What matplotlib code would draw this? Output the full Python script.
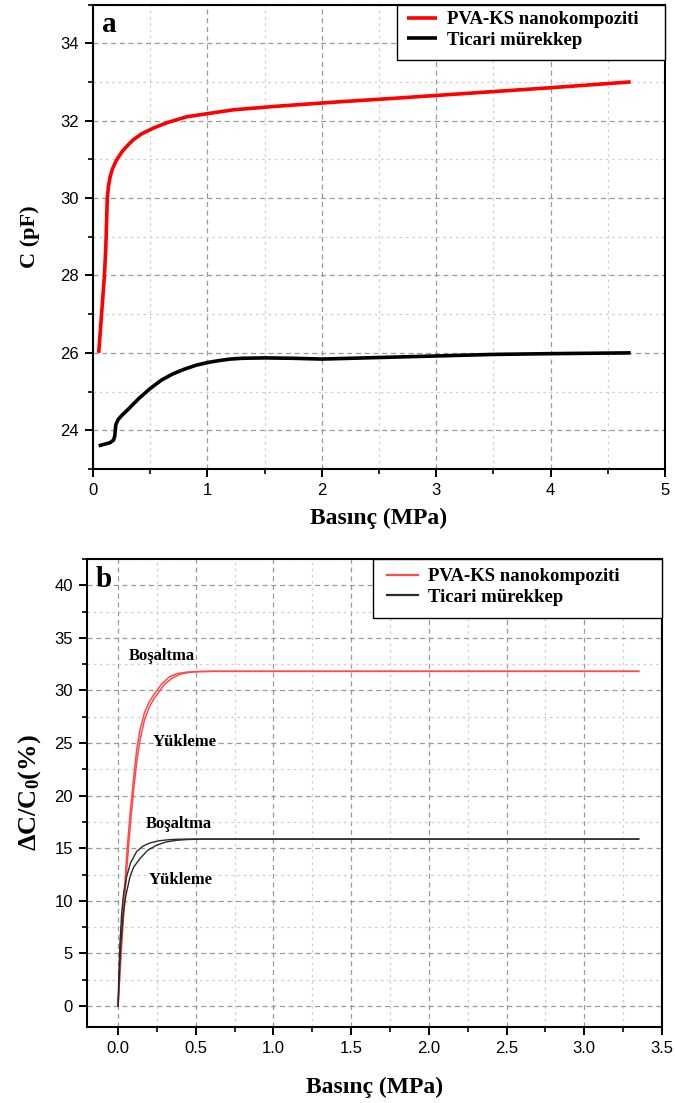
import matplotlib
matplotlib.use("Agg")
import matplotlib.pyplot as plt
from matplotlib.patches import Rectangle
from matplotlib.ticker import MultipleLocator, FormatStrFormatter

plt.rcParams["mathtext.fontset"] = "custom"
plt.rcParams["mathtext.rm"] = "Liberation Serif"
plt.rcParams["mathtext.bf"] = "Liberation Serif:bold"
plt.rcParams["mathtext.it"] = "Liberation Serif:italic"

SERIF = "Liberation Serif"
SANS = "Liberation Sans"
W, H = 675, 1103

# ---- Panel a: capacitance vs pressure ----
a_pva_x = [0.05, 0.07, 0.09, 0.10, 0.11, 0.115, 0.12, 0.125, 0.135, 0.15, 0.17, 0.20,
           0.22, 0.26, 0.30, 0.35, 0.42, 0.53, 0.65, 0.82, 1.0, 1.23, 1.6, 2.17, 2.6,
           3.0, 3.5, 4.0, 4.7]
a_pva_y = [26.0, 26.8, 27.6, 28.0, 28.6, 29.0, 29.5, 30.0, 30.3, 30.55, 30.75, 30.95,
           31.05, 31.22, 31.35, 31.5, 31.65, 31.81, 31.95, 32.1, 32.18, 32.28, 32.37,
           32.49, 32.57, 32.65, 32.75, 32.85, 33.0]

a_ink_x = [0.05, 0.10, 0.15, 0.18, 0.19, 0.20, 0.22, 0.25, 0.30, 0.40, 0.50, 0.60, 0.70,
           0.80, 0.90, 1.0, 1.1, 1.2, 1.3, 1.5, 1.75, 2.0, 2.5, 3.0, 3.5, 4.0, 4.7]
a_ink_y = [23.60, 23.64, 23.68, 23.75, 23.85, 24.15, 24.28, 24.38, 24.52, 24.82, 25.08,
           25.30, 25.46, 25.58, 25.68, 25.75, 25.80, 25.84, 25.86, 25.87, 25.86, 25.84,
           25.88, 25.92, 25.96, 25.98, 26.0]

# ---- Panel b: relative capacitance change, loading / unloading ----
b_pva_unload_x = [0, 0.02, 0.04, 0.06, 0.08, 0.10, 0.12, 0.14, 0.17, 0.20, 0.23, 0.25,
                  0.28, 0.33, 0.38, 0.44, 0.50, 0.60, 3.35]
b_pva_unload_y = [0, 6.0, 11.0, 15.2, 18.7, 21.6, 24.4, 26.2, 27.9, 28.9, 29.6, 30.0,
                  30.6, 31.3, 31.6, 31.74, 31.8, 31.82, 31.82]
b_pva_load_x = [0, 0.02, 0.04, 0.06, 0.08, 0.10, 0.12, 0.14, 0.17, 0.20, 0.23, 0.26,
                0.30, 0.35, 0.40, 0.46, 0.52, 0.62, 3.35]
b_pva_load_y = [0, 5.0, 9.6, 13.8, 17.4, 20.5, 23.2, 25.2, 27.2, 28.4, 29.2, 29.8,
                30.6, 31.2, 31.55, 31.72, 31.79, 31.82, 31.82]

b_ink_unload_x = [0, 0.005, 0.012, 0.023, 0.035, 0.055, 0.08, 0.12, 0.16, 0.205, 0.26,
                  0.32, 0.375, 0.45, 3.35]
b_ink_unload_y = [0, 3.0, 6.0, 8.8, 10.6, 12.3, 13.6, 14.7, 15.2, 15.5, 15.7, 15.8,
                  15.85, 15.87, 15.87]
b_ink_load_x = [0, 0.008, 0.018, 0.034, 0.05, 0.077, 0.10, 0.14, 0.19, 0.25, 0.31,
                0.375, 0.45, 0.55, 3.35]
b_ink_load_y = [0, 3.0, 6.0, 8.8, 10.5, 12.3, 13.2, 14.0, 14.8, 15.3, 15.6, 15.75,
                15.83, 15.87, 15.87]

series_labels = ["PVA-KS nanokompoziti", "Ticari mürekkep"]
unload_label = "Boşaltma"
load_label = "Yükleme"
xlabel = "Basınç (MPa)"

fig = plt.figure(figsize=(W / 100, H / 100), dpi=100)


def px_rect(x0, y0, x1, y1):
    """Figure-fraction rectangle from pixel edges (origin top-left)."""
    return [x0 / W, 1 - y1 / H, (x1 - x0) / W, (y1 - y0) / H]


ax_a = fig.add_axes(px_rect(93, 4.5, 665, 469))
ax_b = fig.add_axes(px_rect(87, 559, 662, 1027))


def style_axes(ax):
    for s in ax.spines.values():
        s.set_linewidth(1.5)
        s.set_color("black")
    ax.tick_params(which="major", direction="out", length=6, width=1.4,
                   labelsize=12, pad=4, top=False, right=False)
    ax.tick_params(which="minor", direction="out", length=3.5, width=1.2,
                   top=False, right=False)
    for lab in ax.get_xticklabels() + ax.get_yticklabels():
        lab.set_fontfamily(SANS)
    ax.grid(which="major", linestyle=(0, (4, 3)), color="#9a9a9a", linewidth=0.9)
    ax.grid(which="minor", linestyle=(0, (2, 3)), color="#cfcfcf", linewidth=0.9)
    ax.set_axisbelow(True)


def boxed_legend(ax, box_px, handle_px, row1_top_px, handlelength, lw=None):
    """Legend drawn over a white framed box given in figure pixels."""
    x0, y0, x1, y1 = box_px
    frame = Rectangle((x0 / W, 1 - y1 / H), (x1 - x0) / W, (y1 - y0) / H,
                      transform=fig.transFigure, facecolor="white",
                      edgecolor="black", linewidth=1.0, zorder=4)
    ax.add_patch(frame)
    frame.set_clip_on(False)
    leg = ax.legend(loc="upper left",
                    bbox_to_anchor=(handle_px / W, 1 - row1_top_px / H),
                    bbox_transform=fig.transFigure, borderaxespad=0, borderpad=0,
                    frameon=False, handlelength=handlelength, handletextpad=0.55,
                    labelspacing=0.2,
                    prop={"family": SERIF, "weight": "bold", "size": 13.5})
    leg.set_zorder(5)
    if lw is not None:
        for ln in leg.get_lines():
            ln.set_linewidth(lw)
    return leg


# Panel a
ax_a.plot(a_pva_x, a_pva_y, color="#ff0000", lw=2.6, label=series_labels[0],
          solid_capstyle="butt")
ax_a.plot(a_ink_x, a_ink_y, color="black", lw=2.6, label=series_labels[1],
          solid_capstyle="butt")
ax_a.set_xlim(0, 5)
ax_a.set_ylim(23, 35)
ax_a.xaxis.set_major_locator(MultipleLocator(1))
ax_a.xaxis.set_minor_locator(MultipleLocator(0.5))
ax_a.yaxis.set_major_locator(MultipleLocator(2))
ax_a.yaxis.set_minor_locator(MultipleLocator(1))
style_axes(ax_a)
ax_a.set_xlabel(xlabel, fontfamily=SERIF, fontweight="bold", fontsize=17, labelpad=7)
ax_a.set_ylabel("C (pF)", fontfamily=SERIF, fontweight="bold", fontsize=16, labelpad=15)
ax_a.text(0.015, 0.985, "a", transform=ax_a.transAxes, ha="left", va="top",
          fontfamily=SERIF, fontweight="bold", fontsize=21)
boxed_legend(ax_a, (397, 4.5, 665, 60), 407, 11, 1.6)

# Panel b
ax_b.plot(b_pva_unload_x, b_pva_unload_y, color="#ff4a4a", lw=1.1, label=series_labels[0])
ax_b.plot(b_pva_load_x, b_pva_load_y, color="#ff4a4a", lw=1.1)
ax_b.plot(b_ink_unload_x, b_ink_unload_y, color="#2a2a2a", lw=1.0, label=series_labels[1])
ax_b.plot(b_ink_load_x, b_ink_load_y, color="#2a2a2a", lw=1.0)
ax_b.set_xlim(-0.2, 3.5)
ax_b.set_ylim(-2, 42.5)
ax_b.xaxis.set_major_locator(MultipleLocator(0.5))
ax_b.xaxis.set_minor_locator(MultipleLocator(0.25))
ax_b.xaxis.set_major_formatter(FormatStrFormatter("%.1f"))
ax_b.yaxis.set_major_locator(MultipleLocator(5))
ax_b.yaxis.set_minor_locator(MultipleLocator(2.5))
style_axes(ax_b)
ax_b.set_xlabel(xlabel, fontfamily=SERIF, fontweight="bold", fontsize=17, labelpad=15)
ax_b.set_ylabel(r"$\mathbf{\Delta C/C_0(\%)}$", fontsize=19, labelpad=8)
ax_b.text(0.015, 0.985, "b", transform=ax_b.transAxes, ha="left", va="top",
          fontfamily=SERIF, fontweight="bold", fontsize=21)

note_kw = dict(fontfamily=SERIF, fontweight="bold", fontsize=12, ha="center", va="center")
ax_b.text(0.28, 33.3, unload_label, **note_kw)
ax_b.text(0.43, 25.1, load_label, **note_kw)
ax_b.text(0.39, 17.3, unload_label, **note_kw)
ax_b.text(0.40, 12.0, load_label, **note_kw)

boxed_legend(ax_b, (373, 559, 662, 618), 387, 568, 1.65, lw=1.6)

fig.savefig("out.png", dpi=100)
